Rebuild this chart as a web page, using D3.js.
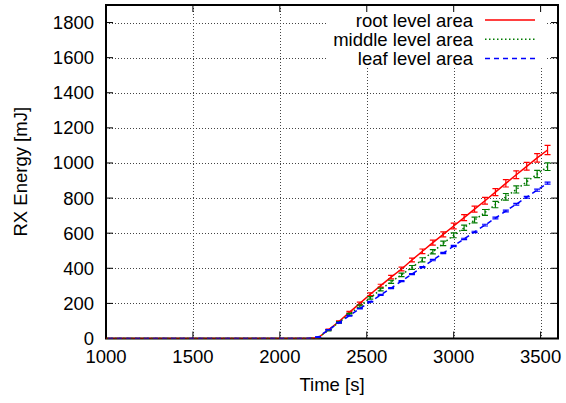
<!DOCTYPE html>
<html>
<head>
<meta charset="utf-8">
<script src="https://cdn.jsdelivr.net/npm/d3@7"></script>
<style>
  body { margin: 0; background: #fff; }
  svg text { font-family: "Liberation Sans", Arial, sans-serif; fill: #000; }
</style>
</head>
<body>
<svg id="chart" width="566" height="403"></svg>
<script>
// sample times [s]
const times = [960, 1020, 1080, 1140, 1200, 1260, 1320, 1380, 1440, 1500, 1560, 1620, 1680, 1740,
  1800, 1860, 1920, 1980, 2040, 2100, 2160,
  2220, 2280, 2340, 2400, 2460, 2520, 2580, 2640, 2700, 2760, 2820, 2880, 2940, 3000,
  3060, 3120, 3180, 3240, 3300, 3360, 3420, 3480, 3540];

const zeros = [0, 0, 0, 0, 0, 0, 0, 0, 0, 0, 0, 0, 0, 0, 0, 0, 0, 0, 0, 0, 0];

// RX energy [mJ] per series, after 2160 s
const rootEnergy = zeros.concat([4, 50, 97, 149, 200, 252, 301, 350, 396, 447, 497, 546, 593, 641,
  689, 737, 785, 834, 884, 933, 981, 1029, 1074]);
const rootErr = zeros.concat([1, 3, 4, 5, 7, 8, 8, 10, 11, 11, 13, 14, 14, 16,
  17, 17, 19, 20, 21, 22, 22, 24, 26]);

const middleEnergy = zeros.concat([4, 47, 92, 138, 184, 231, 279, 323, 363, 405, 448, 494, 542, 588,
  631, 675, 718, 763, 807, 849, 893, 937, 979]);
const middleErr = zeros.concat([1, 3, 4, 5, 6, 7, 8, 9, 10, 11, 12, 12, 13, 14,
  15, 16, 17, 18, 19, 20, 20, 21, 22]);

const leafEnergy = zeros.concat([8, 50, 90, 130, 170, 209, 248, 287, 327, 367, 407, 447, 487, 527,
  567, 607, 646, 686, 726, 765, 805, 845, 885]);
const leafErr = zeros.concat([1, 1, 2, 2, 2, 2, 3, 3, 3, 3, 3, 4, 4, 4,
  4, 4, 5, 5, 5, 5, 5, 6, 6]);

const xTicks = [1000, 1500, 2000, 2500, 3000, 3500];
const yTicks = [0, 200, 400, 600, 800, 1000, 1200, 1400, 1600, 1800];

const series = [
  { name: "root level area", values: rootEnergy, err: rootErr, color: "#ff0000", dash: null },
  { name: "middle level area", values: middleEnergy, err: middleErr, color: "#007a00", dash: "1.5,2.5" },
  { name: "leaf level area", values: leafEnergy, err: leafErr, color: "#0000ff", dash: "5,4" }
];

const svg = d3.select("#chart");
const pLeft = 106, pRight = 558, pTop = 5, pBottom = 338.5;

const x = d3.scaleLinear().domain([1000, 3600]).range([pLeft, pRight]);
const y = d3.scaleLinear().domain([0, 1900]).range([pBottom, pTop]);

// clip for data
svg.append("clipPath").attr("id", "plotclip")
  .append("rect").attr("x", pLeft).attr("y", pTop).attr("width", pRight - pLeft).attr("height", pBottom - pTop);

// grid
const grid = svg.append("g").attr("stroke", "#444").attr("stroke-width", 1).attr("stroke-dasharray", "1,2");
grid.selectAll(".gx").data(xTicks.filter(d => d > 1000)).join("line")
  .attr("x1", d => Math.round(x(d)) + 0.5).attr("x2", d => Math.round(x(d)) + 0.5)
  .attr("y1", pTop).attr("y2", pBottom);
grid.selectAll(".gy").data(yTicks.filter(d => d > 0)).join("line")
  .attr("x1", pLeft).attr("x2", pRight)
  .attr("y1", d => Math.round(y(d)) + 0.5).attr("y2", d => Math.round(y(d)) + 0.5);

// key background hides grid
const keyRight = 473, sampleX1 = 485, sampleX2 = 535, keyTop = 20, keyStep = 19.2;
svg.append("rect").attr("x", 328).attr("y", pTop + 1).attr("width", 217).attr("height", 62).attr("fill", "#fff");

// axes (ticks inward, mirrored)
const tickLen = 7;
const axes = svg.append("g").attr("stroke", "#000").attr("stroke-width", 1);
xTicks.forEach(t => {
  const px = x(t);
  axes.append("line").attr("x1", px).attr("x2", px).attr("y1", pBottom).attr("y2", pBottom - tickLen);
  axes.append("line").attr("x1", px).attr("x2", px).attr("y1", pTop).attr("y2", pTop + tickLen);
});
yTicks.forEach(t => {
  const py = y(t);
  axes.append("line").attr("x1", pLeft).attr("x2", pLeft + tickLen).attr("y1", py).attr("y2", py);
  axes.append("line").attr("x1", pRight).attr("x2", pRight - tickLen).attr("y1", py).attr("y2", py);
});

svg.append("rect").attr("x", pLeft).attr("y", pTop).attr("width", pRight - pLeft).attr("height", pBottom - pTop)
  .attr("fill", "none").attr("stroke", "#000").attr("stroke-width", 2);

// tick labels
svg.append("g").selectAll("text").data(xTicks).join("text")
  .attr("x", d => x(d)).attr("y", 363).attr("text-anchor", "middle")
  .attr("font-size", "18.5px").text(d => d);
svg.append("g").selectAll("text").data(yTicks).join("text")
  .attr("x", 94).attr("y", d => y(d) + 6.5).attr("text-anchor", "end")
  .attr("font-size", "18.5px").text(d => d);

// axis titles
svg.append("text").attr("x", (pLeft + pRight) / 2).attr("y", 391).attr("text-anchor", "middle")
  .attr("font-size", "18.5px").text("Time [s]");
svg.append("text").attr("transform", `translate(26.5, ${(pTop + pBottom) / 2}) rotate(-90)`)
  .attr("text-anchor", "middle").attr("font-size", "18.5px").text("RX Energy [mJ]");

// data
const plot = svg.append("g").attr("clip-path", "url(#plotclip)");
const line = d3.line().x(d => x(d.t)).y(d => y(d.v));

series.forEach(s => {
  const pts = times.map((t, i) => ({ t: t, v: s.values[i], e: s.err[i] }));
  plot.append("path").datum(pts)
    .attr("d", line)
    .attr("fill", "none").attr("stroke", s.color).attr("stroke-width", 1.5)
    .attr("stroke-dasharray", s.dash);

  // error bars with caps
  const bars = plot.append("g").attr("stroke", s.color).attr("stroke-width", 1.2);
  pts.filter(p => p.v > 0).forEach(p => {
    const px = x(p.t);
    bars.append("line").attr("x1", px).attr("x2", px).attr("y1", y(p.v - p.e)).attr("y2", y(p.v + p.e));
    bars.append("line").attr("x1", px - 3).attr("x2", px + 3).attr("y1", y(p.v - p.e)).attr("y2", y(p.v - p.e));
    bars.append("line").attr("x1", px - 3).attr("x2", px + 3).attr("y1", y(p.v + p.e)).attr("y2", y(p.v + p.e));
  });
});

// key
series.forEach((s, i) => {
  const cy = keyTop + i * keyStep;
  svg.append("text").attr("x", keyRight).attr("y", cy + 6.5).attr("text-anchor", "end")
    .attr("font-size", "18.5px").text(s.name);
  svg.append("line").attr("x1", sampleX1).attr("x2", sampleX2).attr("y1", cy).attr("y2", cy)
    .attr("stroke", s.color).attr("stroke-width", 1.5).attr("stroke-dasharray", s.dash);
});
</script>
</body>
</html>
